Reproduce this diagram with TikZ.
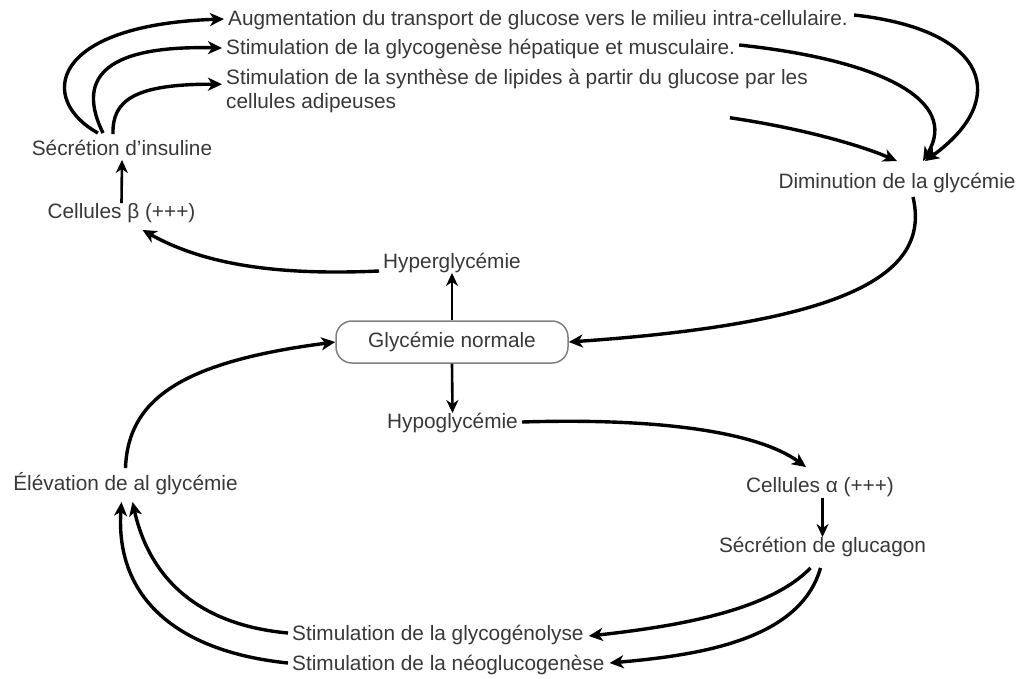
\documentclass[tikz,border=0pt]{standalone}
\usepackage{fontspec}
\setmainfont{Liberation Sans}
\usetikzlibrary{arrows.meta,calc}
\begin{document}
\begin{tikzpicture}[x=1pt,y=-1pt,
 txt0/.style={inner sep=0pt, text=black!78, font=\fontsize{20.8}{23.5}\selectfont},
 txt/.style={txt0, text height=15pt, text depth=4.5pt},
 arr/.style={line width=3.4pt, -{Stealth[length=14pt,width=13pt,inset=4pt]}},
 sarr/.style={line width=2.6pt, -{Stealth[length=13pt,width=12pt,inset=4pt]}},
 box/.style={draw=black!50, line width=1.5pt, rounded corners=16pt, minimum width=232pt, minimum height=42pt, inner sep=0pt, text=black!78, font=\fontsize{20.8}{23.5}\selectfont}]
\useasboundingbox (0,0) rectangle (1028,678);
% nodes
\node[txt,anchor=west] (aug) at (228,20) {Augmentation du transport de glucose vers le milieu intra-cellulaire.};
\node[txt,anchor=west] (glg) at (226,49) {Stimulation de la glycogenèse hépatique et musculaire.};
\node[txt0,anchor=west,align=left] (lip) at (226,91) {Stimulation de la synthèse de lipides à partir du glucose par les\\cellules adipeuses};
\node[txt] (ins) at (122,150) {Sécrétion d’insuline};
\node[txt] (beta) at (121.5,213) {Cellules β (+++)};
\node[txt] (dim) at (897,183) {Diminution de la glycémie};
\node[txt] (hyper) at (452,263) {Hyperglycémie};
\node[box] (norm) at (452,342) {Glycémie normale};
\node[txt] (hypo) at (452.5,423) {Hypoglycémie};
\node[txt] (elev) at (125.5,485) {Élévation de al glycémie};
\node[txt] (alpha) at (820,487) {Cellules α (+++)};
\node[txt] (gluc) at (822.5,547) {Sécrétion de glucagon};
\node[txt,anchor=west] (glyl) at (292,635) {Stimulation de la glycogénolyse};
\node[txt,anchor=west] (neo) at (292,665) {Stimulation de la néoglucogenèse};
% insulin branch
\draw[arr] ($(ins.north)+(-24,-7)$) .. controls (38,100) and (48,25) .. ($(aug.west)+(-4,-1)$);
\draw[arr] ($(ins.north)+(-19,-7)$) .. controls (78,82) and (98,45) .. ($(glg.west)+(-4,-1)$);
\draw[arr] ($(ins.north)+(-9,-6)$) .. controls (112,100) and (135,84) .. ($(lip.north west)+(-4,15)$);
\draw[sarr] (beta.north) -- (ins.south);
% to diminution
\draw[arr] ($(aug.east)+(6,-5)$) .. controls (990,30) and (1010,100) .. ($(dim.north)+(28,-12)$);
\draw[arr] ($(glg.east)+(4,-4)$) .. controls (880,60) and (960,100) .. ($(dim.north)+(26,-12)$);
\draw[arr] ($(lip.south east)+(-78,5)$) .. controls (800,128) and (860,145) .. ($(dim.north)+(0,-12)$);
\draw[arr] ($(dim.south)+(16,4)$) .. controls (930,270) and (860,322) .. (norm.east);
% hyper
\draw[arr] ($(hyper.west)+(-4,8)$) .. controls (290,275) and (210,268) .. ($(beta.south)+(21,7)$);
\draw[sarr] (norm.north) -- (hyper.south);
\draw[sarr] (norm.south) -- (hypo.north);
% hypo branch
\draw[arr] ($(hypo.east)+(4,-1)$) .. controls (650,418) and (755,430) .. ($(alpha.north)+(-14,-10)$);
\draw[sarr] ($(alpha.south)+(2.5,1)$) -- (gluc.north);
\draw[arr] ($(gluc.south)+(-12,11)$) .. controls (770,610) and (680,626) .. ($(glyl.east)+(5,1)$);
\draw[arr] ($(gluc.south)+(-2,11)$) .. controls (800,640) and (700,655) .. ($(neo.east)+(5,-2)$);
\draw[arr] ($(glyl.west)+(-4,-2)$) .. controls (200,625) and (150,580) .. ($(elev.south)+(7,7)$);
\draw[arr] ($(neo.west)+(-4,-2)$) .. controls (180,652) and (115,600) .. ($(elev.south)+(-4,7)$);
\draw[arr] ($(elev.north)+(0,-7)$) .. controls (128,400) and (180,362) .. (norm.west);
\end{tikzpicture}
\end{document}
